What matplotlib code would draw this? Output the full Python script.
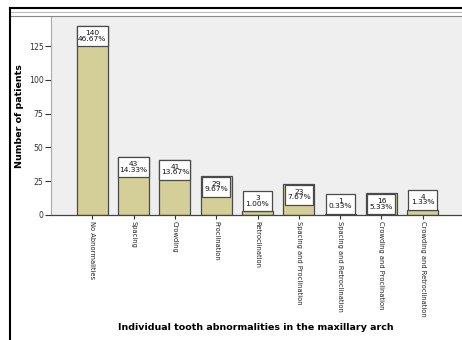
import matplotlib.pyplot as plt
from matplotlib.lines import Line2D
from matplotlib.patches import Rectangle

categories = ["No Abnormalities", "Spacing", "Crowding", "Proclination",
              "Retroclination", "Spacing and Proclination",
              "Spacing and Retroclination", "Crowding and Proclination",
              "Crowding and Retroclination"]
counts = [140, 43, 41, 29, 3, 23, 1, 16, 4]
y_ticks = [0, 25, 50, 75, 100, 125]

total = sum(counts)
bar_color = "#d4cf98"
box_h = 14.8   # label box height in data units

fig = plt.figure(figsize=(4.62, 3.40), dpi=100)
ax = fig.add_axes([51 / 462, 125 / 340, 411 / 462, 198 / 340])
ax.set_facecolor("#efefef")

x = list(range(len(categories)))
ax.bar(x, counts, width=0.75, color=bar_color, edgecolor="#4a4a4a",
       linewidth=0.9, zorder=2)

# count / percent boxes: inside the bar top when it fits, else on top of it
for xi, c in zip(x, counts):
    if c >= box_h + 1:
        w, bottom = 0.75, c - box_h
        if c < 30:
            w, bottom = 0.68, c - box_h - 0.6
    else:
        w, bottom = 0.70, c
    ax.add_patch(Rectangle((xi - w / 2, bottom), w, box_h, facecolor="white",
                           edgecolor="#4a4a4a", linewidth=0.9, zorder=3))
    ax.text(xi, bottom + box_h / 2, f"{c}\n{c / total * 100:.2f}%",
            ha="center", va="center", fontsize=5.4, linespacing=0.9,
            color="#111111", zorder=4)

ax.set_xlim(-1.0, 8.95)
ax.set_ylim(0, 146.5)
ax.set_yticks(y_ticks)
ax.set_yticklabels([str(t) for t in y_ticks], fontsize=5.6, color="#333333")
ax.set_xticks(x)
ax.set_xticklabels(categories, rotation=270, fontsize=4.9, color="#222222",
                   va="top", ha="center")
ax.tick_params(axis="y", length=4, width=0.8, color="#333333", pad=1.5)
ax.tick_params(axis="x", length=3, width=0.8, color="#333333", pad=1.5)

for side in ["top", "right"]:
    ax.spines[side].set_visible(False)
ax.spines["left"].set_color("#aaaaaa")
ax.spines["left"].set_linewidth(0.8)
ax.spines["bottom"].set_color("#444444")
ax.spines["bottom"].set_linewidth(0.9)

fig.text(20 / 462, 1 - 116 / 340, "Number of patients", rotation=90,
         ha="center", va="center", fontsize=6.8, fontweight="bold")
fig.text(256 / 462, 1 - 327 / 340,
         "Individual tooth abnormalities in the maxillary arch",
         ha="center", va="center", fontsize=6.8, fontweight="bold")

# outer frame lines
fig.add_artist(Line2D([10 / 462, 1], [1 - 8 / 340] * 2, color="black", lw=1.5))
fig.add_artist(Line2D([10 / 462, 1], [1 - 12 / 340] * 2, color="#bbbbbb", lw=0.8))
fig.add_artist(Line2D([10 / 462, 1], [1 - 16 / 340] * 2, color="#888888", lw=0.8))
fig.add_artist(Line2D([10 / 462] * 2, [0, 1 - 8 / 340], color="black", lw=1.5))

fig.savefig("out.png", dpi=100)
